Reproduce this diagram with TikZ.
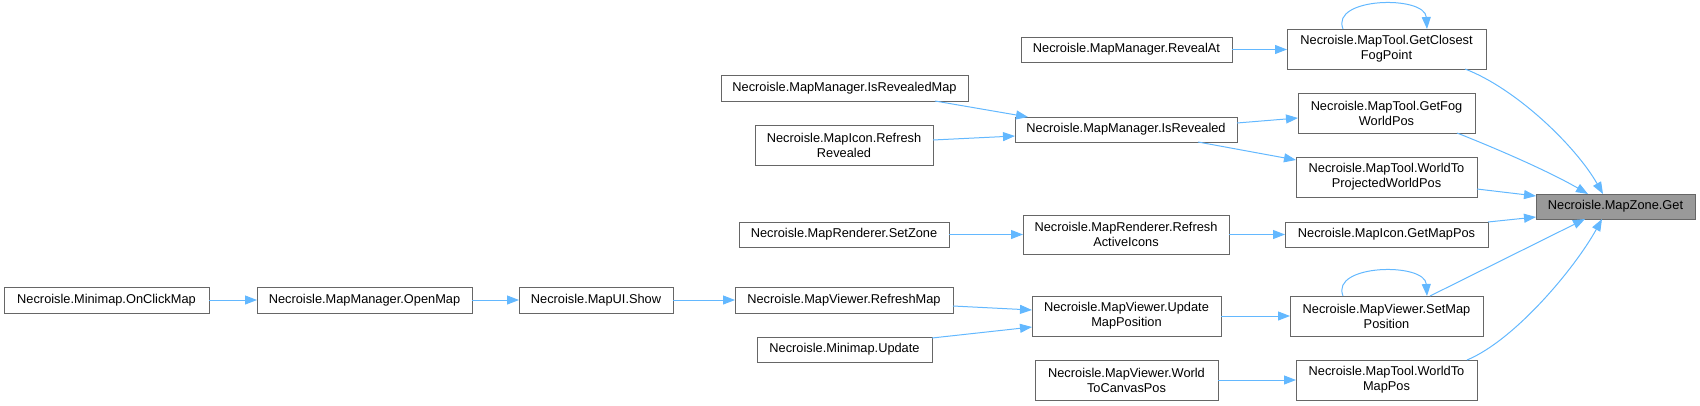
\documentclass[tikz,border=0pt]{standalone}
\usepackage{fontspec}
\setmainfont{Liberation Sans}
\usetikzlibrary{arrows.meta,calc}
\definecolor{edgec}{HTML}{63B8FF}
\definecolor{boxc}{HTML}{666666}
\definecolor{hifill}{HTML}{999999}
\tikzset{
  box/.style={draw=boxc, line width=1pt, fill=white, inner sep=0pt, outer sep=0pt, align=center,
    font=\fontsize{12.8}{15}\selectfont},
  hibox/.style={box, fill=hifill},
  arr/.style={draw=edgec, line width=1pt, -{Triangle[length=12pt,width=9pt]}}
}
\newcommand\bx[7][box]{\node[#1, minimum width={(#4-#3)*1pt}, minimum height={(#6-#5)*1pt}] (#2) at ({(#3+#4)/2},{(#5+#6)/2}) {#7};}
\begin{document}
\begin{tikzpicture}[x=1pt,y=-1pt]
\useasboundingbox (0,0) rectangle (1700,405);
\bx{onclick}{4}{209}{287}{313}{Necroisle.Minimap.OnClickMap}
\bx{openmap}{257}{472}{287}{313}{Necroisle.MapManager.OpenMap}
\bx{show}{519}{673}{287}{313}{Necroisle.MapUI.Show}
\bx{refreshmap}{735}{953}{287}{313}{Necroisle.MapViewer.RefreshMap}
\bx{mmupdate}{757}{932}{337}{362}{Necroisle.Minimap.Update}
\bx{setzone}{739}{949}{222}{247}{Necroisle.MapRenderer.SetZone}
\bx{isrevmap}{721}{968}{75}{101}{Necroisle.MapManager.IsRevealedMap}
\bx{refrev}{755}{933}{125}{165}{Necroisle.MapIcon.Refresh\\Revealed}
\bx{revealat}{1021}{1232}{37}{62}{Necroisle.MapManager.RevealAt}
\bx{isrev}{1015}{1237}{117}{142}{Necroisle.MapManager.IsRevealed}
\bx{refai}{1023}{1229}{215}{254}{Necroisle.MapRenderer.Refresh\\ActiveIcons}
\bx{updmp}{1032}{1221}{296}{336}{Necroisle.MapViewer.Update\\MapPosition}
\bx{wtc}{1035}{1218}{360}{400}{Necroisle.MapViewer.World\\ToCanvasPos}
\bx{gcfp}{1287}{1486}{29}{69}{Necroisle.MapTool.GetClosest\\FogPoint}
\bx{gfwp}{1298}{1475}{93}{133}{Necroisle.MapTool.GetFog\\WorldPos}
\bx{wtpwp}{1296}{1477}{157}{197}{Necroisle.MapTool.WorldTo\\ProjectedWorldPos}
\bx{getmappos}{1285}{1488}{222}{247}{Necroisle.MapIcon.GetMapPos}
\bx{setmp}{1290}{1483}{296}{336}{Necroisle.MapViewer.SetMap\\Position}
\bx{wtmp}{1296}{1477}{360}{400}{Necroisle.MapTool.WorldTo\\MapPos}
\bx[hibox]{get}{1536}{1695}{194}{219}{Necroisle.MapZone.Get}

\draw[arr] (onclick.east) -- (openmap.west);
\draw[arr] (openmap.east) -- (show.west);
\draw[arr] (show.east) -- (refreshmap.west);
\draw[arr] ([yshift=-6pt]refreshmap.east) -- ([yshift=6pt]updmp.west);
\draw[arr] ([yshift=11.5pt]mmupdate.east) -- ([yshift=-11pt]updmp.west);
\draw[arr] (setzone.east) -- (refai.west);
\draw[arr] (refai.east) -- (getmappos.west);
\draw[arr] (updmp.east) -- (setmp.west);
\draw[arr] (wtc.east) -- (wtmp.west);
\draw[arr] (revealat.east) -- (gcfp.west |- revealat.east);
\draw[arr] ([xshift=90.5pt]isrevmap.south) -- ([xshift=-98pt]isrev.north);
\draw[arr] ([yshift=5pt]refrev.east) -- ([yshift=-6.5pt]isrev.west);
\draw[arr] ([yshift=6.5pt]isrev.east) -- ([yshift=-5pt]gfwp.west);
\draw[arr] ([xshift=72pt]isrev.south) -- ([yshift=17pt]wtpwp.west);
\draw[arr] ([xshift=-43.5pt]gcfp.north) .. controls (1330,-3) and (1425,-5) .. ([xshift=40.5pt]gcfp.north);
\draw[arr] ([xshift=-43.5pt]setmp.north) .. controls (1330,264) and (1425,262) .. ([xshift=40.5pt]setmp.north);
\draw[arr] ([xshift=78.5pt]gcfp.south) .. controls (1515,88) and (1575,145) .. ([xshift=-12.5pt]get.north);
\draw[arr] ([xshift=70.5pt]gfwp.south) .. controls (1500,150) and (1550,172) .. ([xshift=-27.5pt]get.north);
\draw[arr] ([yshift=-12pt]wtpwp.east) -- ([yshift=10.5pt]get.west);
\draw[arr] ([yshift=12.5pt]getmappos.east) -- ([yshift=-10.5pt]get.west);
\draw[arr] ([xshift=43.5pt]setmp.north) -- ([xshift=-30.5pt]get.south);
\draw[arr] ([xshift=80.5pt]wtmp.north) .. controls (1515,340) and (1575,268) .. ([xshift=-13.5pt]get.south);
\end{tikzpicture}
\end{document}
